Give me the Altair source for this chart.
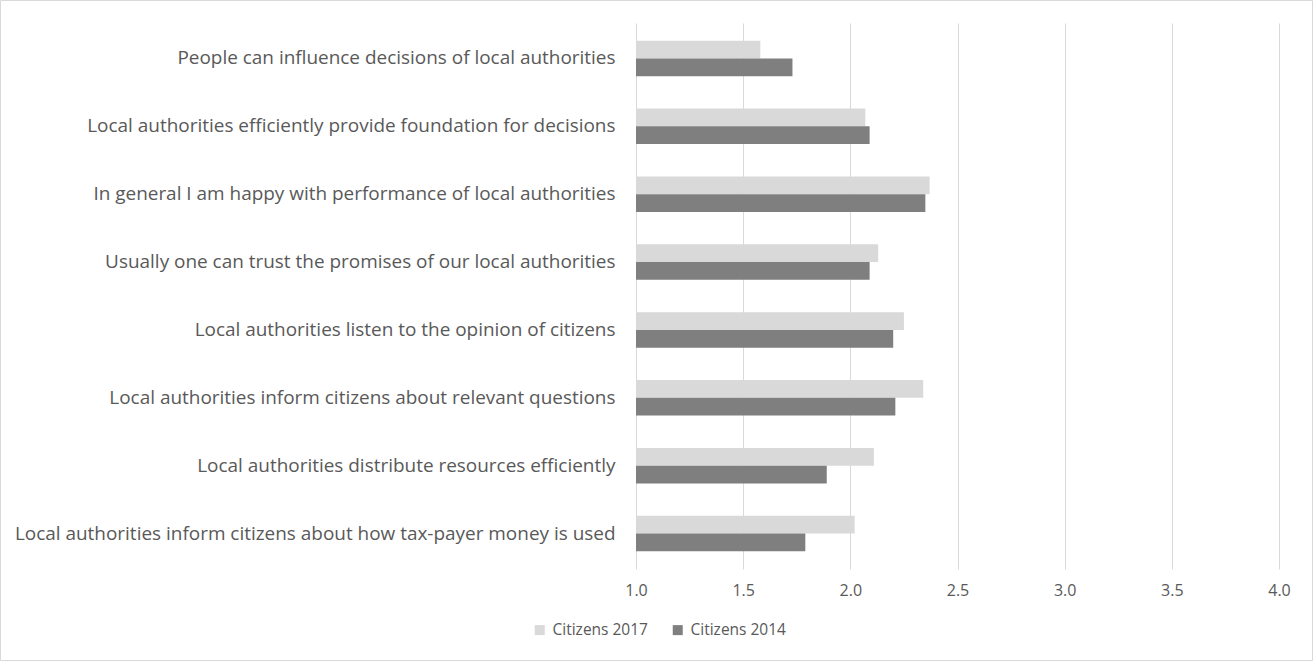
import altair as alt
import pandas as pd

statements = [
    "People can influence decisions of local authorities",
    "Local authorities efficiently provide foundation for decisions",
    "In general I am happy with performance of local authorities",
    "Usually one can trust the promises of our local authorities",
    "Local authorities listen to the opinion of citizens",
    "Local authorities inform citizens about relevant questions",
    "Local authorities distribute resources efficiently",
    "Local authorities inform citizens about how tax-payer money is used",
]
citizens_2017 = [1.58, 2.07, 2.37, 2.13, 2.25, 2.34, 2.11, 2.02]
citizens_2014 = [1.73, 2.09, 2.35, 2.09, 2.20, 2.21, 1.89, 1.79]
series = ["Citizens 2017", "Citizens 2014"]
colors = ["#d9d9d9", "#7f7f7f"]
x_ticks = [1.0, 1.5, 2.0, 2.5, 3.0, 3.5, 4.0]

rows = []
for s, v17, v14 in zip(statements, citizens_2017, citizens_2014):
    rows.append({"statement": s, "series": series[0], "value": v17})
    rows.append({"statement": s, "series": series[1], "value": v14})
df = pd.DataFrame(rows)

FONT = "Open Sans"

bars = alt.Chart(df).mark_bar(clip=True).encode(
    y=alt.Y("statement:N", sort=statements,
            scale=alt.Scale(paddingInner=0.477, paddingOuter=0.26),
            axis=alt.Axis(title=None, domain=False, ticks=False, labelPadding=21,
                          labelFontSize=18.95, labelColor="#595959", labelFont=FONT,
                          labelLimit=700, grid=False)),
    yOffset=alt.YOffset("series:N", sort=series),
    x=alt.X("value:Q",
            scale=alt.Scale(domain=[1.0, 4.0], nice=False, zero=False),
            axis=alt.Axis(title=None, values=x_ticks, format=".1f", domain=False,
                          ticks=False, labelPadding=13, labelFontSize=16,
                          labelFlush=False,
                          labelColor="#595959", labelFont=FONT,
                          grid=True, gridColor="#d9d9d9", gridWidth=1)),
    x2=alt.datum(1.0),
    color=alt.Color("series:N", sort=series,
                    scale=alt.Scale(domain=series, range=colors),
                    legend=alt.Legend(title=None, orient="none", direction="horizontal",
                                      legendX=-104, legendY=599, symbolType="square",
                                      symbolSize=100, symbolStrokeWidth=0,
                                      labelFontSize=15.5, labelColor="#595959",
                                      labelFont=FONT, columnPadding=22, labelOffset=5)),
)

border = alt.Chart(pd.DataFrame({"a": [0]})).mark_rect(
    filled=False, stroke="#d9d9d9", strokeWidth=1
).encode(
    x=alt.value(-635.5), x2=alt.value(676.5),
    y=alt.value(-22.5), y2=alt.value(637.5),
)

chart = alt.layer(bars, border).properties(
    width=643, height=546,
    autosize=alt.AutoSizeParams(type="none"),
    padding={"left": 636, "top": 23, "right": 34, "bottom": 92},
    background="white",
).configure_view(stroke=None)

chart.save("out.html", embed_options={"renderer": "svg", "actions": False})
